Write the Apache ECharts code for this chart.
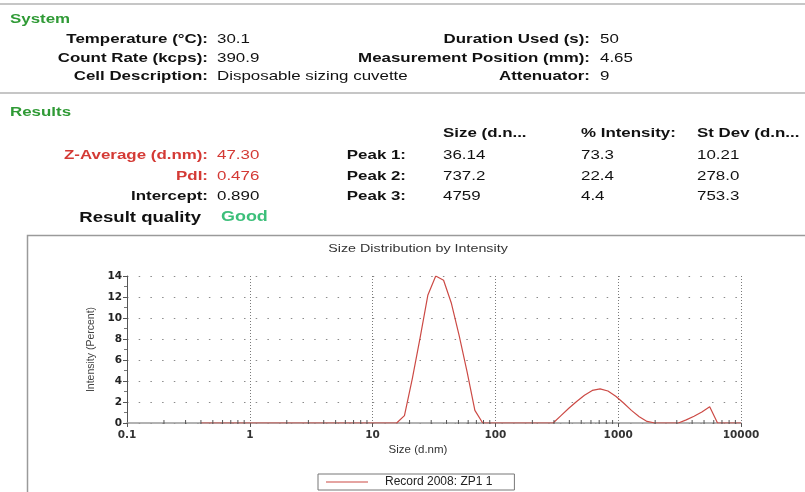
<!DOCTYPE html>
<html>
<head>
<meta charset="utf-8">
<script src="https://cdn.jsdelivr.net/npm/echarts@6/dist/echarts.min.js"></script>
<style>
html,body{margin:0;padding:0;background:#fff;}
#chart{width:805px;height:492px;}
</style>
</head>
<body>
<div id="chart"></div>
<script>
// ---- Report text ----
const systemLabels1 = ['Temperature (°C):', 'Count Rate (kcps):', 'Cell Description:'];
const systemValues1 = ['30.1', '390.9', 'Disposable sizing cuvette'];
const systemLabels2 = ['Duration Used (s):', 'Measurement Position (mm):', 'Attenuator:'];
const systemValues2 = ['50', '4.65', '9'];
const resultLabels = ['Z-Average (d.nm):', 'PdI:', 'Intercept:'];
const resultValues = ['47.30', '0.476', '0.890'];
const peakHeaders = ['Size (d.n...', '% Intensity:', 'St Dev (d.n...'];
const peakNames = ['Peak 1:', 'Peak 2:', 'Peak 3:'];
const peakSizes = ['36.14', '737.2', '4759'];
const peakIntensities = ['73.3', '22.4', '4.4'];
const peakStdDevs = ['10.21', '278.0', '753.3'];
const qualityLabel = 'Result quality';
const qualityValue = 'Good';

// ---- Chart data ----
const chartTitle = 'Size Distribution by Intensity';
const seriesName = 'Record 2008: ZP1 1';
const xAxisName = 'Size (d.nm)';
const yAxisName = 'Intensity (Percent)';
const xTickLabels = ['0.1', '1', '10', '100', '1000', '10000'];
const sizeClasses = [0.4, 0.4632, 0.5365, 0.6213, 0.7195, 0.8332, 0.9649, 1.117, 1.294, 1.499,
  1.736, 2.010, 2.328, 2.696, 3.122, 3.615, 4.187, 4.849, 5.615, 6.503,
  7.531, 8.721, 10.10, 11.70, 13.54, 15.69, 18.17, 21.04, 24.36, 28.21,
  32.67, 37.84, 43.82, 50.75, 58.77, 68.06, 78.82, 91.28, 105.7, 122.4,
  141.8, 164.2, 190.1, 220.2, 255.0, 295.3, 342.0, 396.1, 458.7, 531.2,
  615.1, 712.4, 825.0, 955.4, 1106, 1281, 1484, 1718, 1990, 2305,
  2669, 3091, 3580, 4145, 4801, 5560, 6439, 7456, 8635, 10000];
const intensity = [0, 0, 0, 0, 0, 0, 0, 0, 0, 0,
  0, 0, 0, 0, 0, 0, 0, 0, 0, 0,
  0, 0, 0, 0, 0, 0, 0.7, 4.2, 8.1, 12.2,
  14.0, 13.6, 11.4, 8.3, 4.9, 1.2, 0, 0, 0, 0,
  0, 0, 0, 0, 0, 0, 0.7, 1.4, 2.05, 2.65,
  3.1, 3.25, 3.05, 2.55, 1.9, 1.2, 0.6, 0.15, 0, 0,
  0, 0, 0.3, 0.65, 1.05, 1.55, 0, 0, 0, 0];

const GREEN = '#2f9a35';
const RED = '#d43a35';
const SX = 1.3;
const BOLD = 'bold 13px "Liberation Sans", Arial, sans-serif';
const REG = '13px "Liberation Sans", Arial, sans-serif';

function txt(text, x, y, align, font, fill, sx) {
  return {
    type: 'text', x: x, y: y, scaleX: sx || SX, silent: true, z: 10,
    style: { text: text, x: 0, y: 0, align: align, verticalAlign: 'middle', font: font, fill: fill || '#111' }
  };
}

const g = [];
// separators
g.push({ type: 'rect', shape: { x: 0, y: 3, width: 805, height: 2 }, style: { fill: '#c6c6c6' }, silent: true });
g.push({ type: 'rect', shape: { x: 0, y: 92, width: 805, height: 2 }, style: { fill: '#c6c6c6' }, silent: true });
// panel frame
g.push({ type: 'rect', shape: { x: 27.5, y: 235.5, width: 800, height: 300 }, style: { fill: 'none', stroke: '#9a9a9a', lineWidth: 1.5 }, silent: true });

g.push(txt('System', 10, 19.5, 'left', BOLD, GREEN));
const sysY = [39.5, 58, 76.5];
systemLabels1.forEach((t, i) => g.push(txt(t, 208, sysY[i], 'right', BOLD)));
systemValues1.forEach((t, i) => g.push(txt(t, 217, sysY[i], 'left', REG)));
systemLabels2.forEach((t, i) => g.push(txt(t, 590, sysY[i], 'right', BOLD)));
systemValues2.forEach((t, i) => g.push(txt(t, 600, sysY[i], 'left', REG)));

g.push(txt('Results', 10, 112, 'left', BOLD, GREEN));
const colX = [443, 581, 697];
peakHeaders.forEach((t, i) => g.push(txt(t, colX[i], 133, 'left', BOLD)));
const resY = [155.5, 176, 196.5];
resultLabels.forEach((t, i) => g.push(txt(t, 208, resY[i], 'right', BOLD, i < 2 ? RED : '#111')));
resultValues.forEach((t, i) => g.push(txt(t, 217, resY[i], 'left', REG, i < 2 ? RED : '#111')));
peakNames.forEach((t, i) => g.push(txt(t, 406, resY[i], 'right', BOLD)));
peakSizes.forEach((t, i) => g.push(txt(t, colX[0], resY[i], 'left', REG)));
peakIntensities.forEach((t, i) => g.push(txt(t, colX[1], resY[i], 'left', REG)));
peakStdDevs.forEach((t, i) => g.push(txt(t, colX[2], resY[i], 'left', REG)));
g.push(txt(qualityLabel, 201, 217.5, 'right', 'bold 14.5px "Liberation Sans", Arial, sans-serif', '#111', 1.28));
g.push(txt(qualityValue, 221, 217.5, 'left', 'bold 14px "Liberation Sans", Arial, sans-serif', '#3cbf7a', 1.28));

// chart title
g.push(txt(chartTitle, 418, 249, 'center', '11px "Liberation Sans", Arial, sans-serif', '#333'));

// minor tick positions for the log axis
const minorTicks = [];
[0.1, 1, 10, 100, 1000].forEach(d => { for (let m = 2; m <= 9; m++) minorTicks.push(d * m); });

const chart = echarts.init(document.getElementById('chart'), null, { renderer: 'canvas' });
chart.setOption({
  animation: false,
  backgroundColor: '#fff',
  graphic: g,
  grid: { left: 127, right: 64, top: 276, bottom: 69, containLabel: false },
  legend: {
    data: [seriesName], left: 318, top: 474,
    padding: [2, 22, 2, 8], borderColor: '#777', borderWidth: 1,
    icon: 'rect', itemWidth: 42, itemHeight: 1.2,
    textStyle: { fontFamily: '"Liberation Sans", Arial, sans-serif', fontSize: 12, color: '#222', padding: [0, 0, 0, 12] }
  },
  xAxis: {
    type: 'log', logBase: 10, min: 0.1, max: 10000,
    name: xAxisName, nameLocation: 'middle', nameGap: 21,
    nameTextStyle: { fontFamily: '"Liberation Sans", Arial, sans-serif', fontSize: 11.5, color: '#333', padding: [0, 32, 0, 0] },
    axisLine: { lineStyle: { color: '#999', width: 1.5 } },
    axisTick: { show: true, length: 4, lineStyle: { color: '#555' } },
    axisLabel: {
      margin: 7, color: '#333', fontFamily: '"DejaVu Sans", sans-serif', fontWeight: 'bold', fontSize: 10.5,
      formatter: v => xTickLabels[Math.round(Math.log10(v)) + 1]
    },
    splitLine: { show: true, lineStyle: { color: '#7a7a7a', type: [1, 2], width: 1 } }
  },
  yAxis: {
    type: 'value', min: 0, max: 14, interval: 2,
    name: yAxisName, nameLocation: 'middle', nameGap: 27, nameRotate: 90,
    nameTextStyle: { fontFamily: '"Liberation Sans", Arial, sans-serif', fontSize: 10.5, color: '#444' },
    axisLine: { show: true, lineStyle: { color: '#555', width: 1 } },
    axisTick: { show: true, length: 4, lineStyle: { color: '#555' } },
    minorTick: { show: true, splitNumber: 2, length: 3, lineStyle: { color: '#777' } },
    axisLabel: { margin: 5, color: '#222', fontFamily: '"DejaVu Sans", sans-serif', fontWeight: 'bold', fontSize: 10.5 },
    splitLine: { show: true, lineStyle: { color: '#8a8a8a', type: [1.5, 10.2], width: 1 } }
  },
  series: [
    {
      name: seriesName, type: 'line', symbol: 'none', showSymbol: false, smooth: false,
      data: sizeClasses.map((s, i) => [s, intensity[i]]),
      lineStyle: { color: '#cc4a45', width: 1.2 },
      itemStyle: { color: '#cc4a45' },
      z: 5
    },
    {
      name: 'minorTicks', type: 'custom', silent: true, z: 6,
      data: minorTicks.map(v => [v, 0]),
      renderItem: function (params, api) {
        const p = api.coord([api.value(0), 0]);
        return { type: 'line', shape: { x1: p[0], y1: p[1] - 3, x2: p[0], y2: p[1] + 1 }, style: { stroke: '#555', lineWidth: 1 } };
      }
    }
  ]
});
</script>
</body>
</html>
